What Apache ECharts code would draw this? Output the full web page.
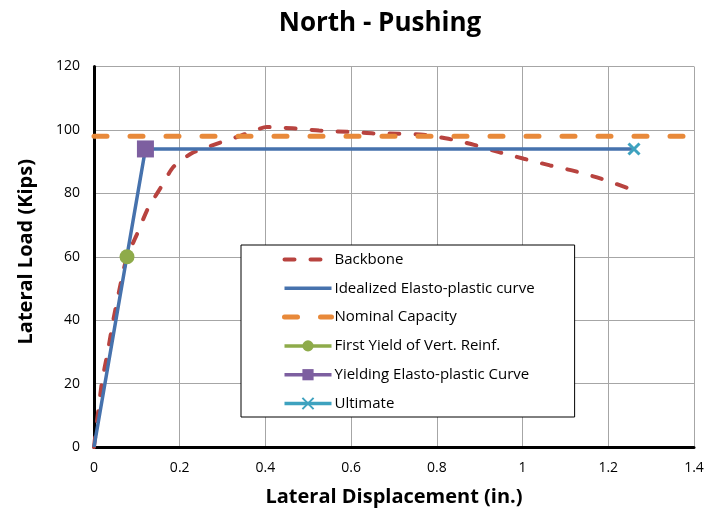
<!DOCTYPE html>
<html>
<head>
<meta charset="utf-8">
<script src="https://cdn.jsdelivr.net/npm/echarts@6/dist/echarts.min.js"></script>
<style>
  html, body { margin: 0; padding: 0; background: #fff; }
  #chart { width: 708px; height: 517px; }
</style>
</head>
<body>
<div id="chart"></div>
<script>
// Measured backbone curve (displacement in., load kips)
const backboneDisp = [0, 0.018, 0.032, 0.045, 0.063, 0.077, 0.100, 0.125, 0.152, 0.185, 0.229, 0.286, 0.343, 0.403, 0.463, 0.525, 0.590, 0.652, 0.710, 0.768, 0.827, 0.887, 0.945, 1.003, 1.064, 1.122, 1.181, 1.255];
const backboneLoad = [0, 20, 30, 40, 52, 60, 67, 75, 81, 88.3, 92.7, 95.6, 98.2, 100.9, 100.5, 99.8, 99.4, 98.9, 98.8, 98.5, 97.2, 95.3, 93.0, 90.9, 88.8, 87.0, 84.7, 81.2];

// Idealized elasto-plastic curve
const idealDisp = [0, 0.12, 1.26];
const idealLoad = [0, 94, 94];

// Nominal capacity (kips)
const nominalDisp = [0, 1.4];
const nominalLoad = [98, 98];

// Key points
const firstYield = [0.077, 60];
const yieldingPoint = [0.12, 94];
const ultimatePoint = [1.26, 94];

const xTicks = [0, 0.2, 0.4, 0.6, 0.8, 1, 1.2, 1.4];
const yTicks = [0, 20, 40, 60, 80, 100, 120];

const pairs = (xs, ys) => xs.map((x, i) => [x, ys[i]]);

const FONT = '"Open Sans", "Liberation Sans", sans-serif';
const HIDDEN_SYMBOL = { color: 'rgba(0,0,0,0)', borderWidth: 0, opacity: 0 };
const BACKBONE_DASH = [10, 16];
const NOMINAL_DASH = [13, 23];

const chart = echarts.init(document.getElementById('chart'), null, { renderer: 'canvas' });

chart.setOption({
  animation: false,
  backgroundColor: '#ffffff',
  textStyle: { fontFamily: FONT },
  title: {
    text: 'North - Pushing',
    left: 375,
    textAlign: 'center',
    top: 6,
    textStyle: { fontFamily: FONT, fontSize: 26, fontWeight: 'bold', color: '#000' }
  },
  grid: { left: 94, right: 14, top: 66.5, bottom: 70, containLabel: false },
  xAxis: {
    type: 'value',
    min: xTicks[0],
    max: xTicks[xTicks.length - 1],
    interval: 0.2,
    name: 'Lateral Displacement (in.)',
    nameLocation: 'middle',
    nameGap: 40,
    nameTextStyle: { fontFamily: FONT, fontSize: 20, fontWeight: 'bold', color: '#000' },
    axisLine: { show: true, onZero: false, lineStyle: { color: '#000', width: 3 } },
    axisTick: { show: false },
    axisLabel: {
      margin: 14, fontSize: 14, color: '#000', fontFamily: FONT,
      formatter: v => String(Math.round(v * 10) / 10)
    },
    splitLine: { show: true, lineStyle: { color: '#a6a6a6', width: 1 } }
  },
  yAxis: {
    type: 'value',
    min: yTicks[0],
    max: yTicks[yTicks.length - 1],
    interval: 20,
    name: 'Lateral Load (Kips)',
    nameLocation: 'middle',
    nameGap: 58,
    nameTextStyle: { fontFamily: FONT, fontSize: 20, fontWeight: 'bold', color: '#000', padding: [0, 0, 0, 10] },
    axisLine: { show: true, onZero: false, lineStyle: { color: '#000', width: 3 } },
    axisTick: { show: false },
    axisLabel: { margin: 14, fontSize: 14, color: '#000', fontFamily: FONT },
    splitLine: { show: true, lineStyle: { color: '#a6a6a6', width: 1 } }
  },
  legend: {
    orient: 'vertical',
    left: 241,
    top: 245,
    padding: [7, 40, 6, 41],
    itemWidth: 47,
    itemHeight: 14,
    itemGap: 13.8,
    backgroundColor: '#fff',
    borderColor: '#000',
    borderWidth: 1,
    textStyle: { fontFamily: FONT, fontSize: 15, color: '#000', padding: [0, 0, 0, -2] },
    data: [
      { name: 'Backbone', lineStyle: { width: 4, type: BACKBONE_DASH, cap: 'round' }, itemStyle: HIDDEN_SYMBOL },
      { name: 'Idealized Elasto-plastic curve', lineStyle: { width: 3.5 }, itemStyle: HIDDEN_SYMBOL },
      { name: 'Nominal Capacity', lineStyle: { width: 5, type: NOMINAL_DASH, cap: 'round' }, itemStyle: HIDDEN_SYMBOL },
      { name: 'First Yield of Vert. Reinf.', lineStyle: { width: 3.5 } },
      { name: 'Yielding Elasto-plastic Curve', lineStyle: { width: 3.5 } },
      { name: 'Ultimate', lineStyle: { width: 3.5 } }
    ]
  },
  series: [
    {
      name: 'Backbone',
      type: 'line',
      data: pairs(backboneDisp, backboneLoad),
      symbol: 'none',
      smooth: 0.2,
      lineStyle: { color: '#b8433f', width: 4, type: BACKBONE_DASH, cap: 'round' },
      itemStyle: { color: '#b8433f' },
      z: 2
    },
    {
      name: 'Idealized Elasto-plastic curve',
      type: 'line',
      data: pairs(idealDisp, idealLoad),
      symbol: 'none',
      lineStyle: { color: '#4672ad', width: 3.5 },
      itemStyle: { color: '#4672ad' },
      z: 3
    },
    {
      name: 'Nominal Capacity',
      type: 'line',
      data: pairs(nominalDisp, nominalLoad),
      symbol: 'none',
      lineStyle: { color: '#e8893a', width: 5, type: NOMINAL_DASH, cap: 'round' },
      itemStyle: { color: '#e8893a' },
      z: 4
    },
    {
      name: 'First Yield of Vert. Reinf.',
      type: 'line',
      data: [firstYield],
      symbol: 'circle',
      symbolSize: 15,
      lineStyle: { color: '#8eab4a', width: 3.5 },
      itemStyle: { color: '#8eab4a' },
      z: 5
    },
    {
      name: 'Yielding Elasto-plastic Curve',
      type: 'line',
      data: [yieldingPoint],
      symbol: 'rect',
      symbolSize: 17,
      lineStyle: { color: '#7d5fa0', width: 3.5 },
      itemStyle: { color: '#7d5fa0' },
      z: 5
    },
    {
      name: 'Ultimate',
      type: 'line',
      data: [ultimatePoint],
      symbol: 'path://M0,0L10,10M10,0L0,10',
      symbolSize: 11,
      lineStyle: { color: '#3ea2bf', width: 3.5 },
      itemStyle: { color: 'rgba(0,0,0,0)', borderColor: '#3ea2bf', borderWidth: 3 },
      z: 5
    }
  ]
});
</script>
</body>
</html>
